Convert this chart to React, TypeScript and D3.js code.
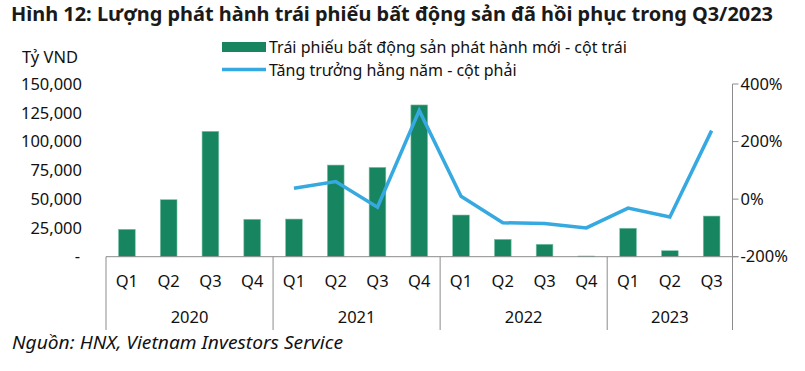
import * as d3 from "d3";
import { useEffect, useRef } from "react";

const years = ["2020", "2021", "2022", "2023"];
const quarters = ["Q1", "Q2", "Q3", "Q4", "Q1", "Q2", "Q3", "Q4", "Q1", "Q2", "Q3", "Q4", "Q1", "Q2", "Q3"];
const yearOf = ["2020", "2020", "2020", "2020", "2021", "2021", "2021", "2021", "2022", "2022", "2022", "2022", "2023", "2023", "2023"];

// Tỷ VND
const issued = [23800, 49500, 108900, 32500, 32700, 79600, 77600, 131800, 36200, 15100, 10800, 600, 24700, 5200, 35300];
// % YoY, null where not available
const growth: (number | null)[] = [null, null, null, null, 38, 61, -28, 308, 10, -82, -85, -100, -31, -62, 238];

const leftTicks = [0, 25000, 50000, 75000, 100000, 125000, 150000];
const rightTicks = [-200, 0, 200, 400];

const title = "Hình 12: Lượng phát hành trái phiếu bất động sản đã hồi phục trong Q3/2023";
const legendBar = "Trái phiếu bất động sản phát hành mới - cột trái";
const legendLine = "Tăng trưởng hằng năm - cột phải";
const source = "Nguồn: HNX, Vietnam Investors Service";

const W = 805;
const H = 371;
const FONT = "'Noto Sans', sans-serif";

export default function App() {
  const ref = useRef<SVGSVGElement | null>(null);

  useEffect(() => {
    document.body.style.margin = "0";
    const el = ref.current;
    if (!el) return;
    const svg = d3.select(el);
    svg.selectAll("*").remove();

    const plot = { left: 106, right: 732.5, top: 84, bottom: 256.7, floor: 330 };
    const green = "#17855f";
    const blue = "#36a9e1";
    const axisColor = "#8c8c8c";
    const textColor = "#111";

    const keys = quarters.map((q, i) => `${yearOf[i]}-${q}`);
    const x = d3.scaleBand<string>().domain(keys).range([plot.left, plot.right]).paddingInner(0.6).paddingOuter(0.3);
    const step = x.step();
    const yL = d3.scaleLinear().domain([0, 150000]).range([plot.bottom, plot.top]);
    const yR = d3.scaleLinear().domain([-200, 400]).range([plot.bottom, plot.top]);

    svg.append("rect").attr("width", W).attr("height", H).attr("fill", "#fff");

    svg
      .append("text")
      .attr("x", 11)
      .attr("y", 21)
      .attr("font-family", FONT)
      .attr("font-weight", 700)
      .attr("font-size", 20)
      .attr("fill", "#1a1a1a")
      .attr("textLength", 762)
      .attr("lengthAdjust", "spacingAndGlyphs")
      .text(title);

    // legend
    svg.append("rect").attr("x", 222).attr("y", 42).attr("width", 44).attr("height", 10).attr("fill", green);
    svg.append("line").attr("x1", 222).attr("x2", 266).attr("y1", 69.5).attr("y2", 69.5).attr("stroke", blue).attr("stroke-width", 3.5);
    const lg = svg.append("g").attr("font-family", FONT).attr("font-size", 16).attr("fill", textColor);
    lg.append("text").attr("x", 269).attr("y", 53).text(legendBar);
    lg.append("text").attr("x", 269).attr("y", 76).text(legendLine);

    svg
      .append("text")
      .attr("x", 50)
      .attr("y", 63)
      .attr("text-anchor", "middle")
      .attr("font-family", FONT)
      .attr("font-size", 16.5)
      .attr("fill", textColor)
      .text("Tỷ VND");

    // left ticks (no axis line)
    svg
      .append("g")
      .attr("font-family", FONT)
      .attr("font-size", 16.5)
      .attr("fill", textColor)
      .attr("text-anchor", "end")
      .selectAll("text")
      .data(leftTicks)
      .enter()
      .append("text")
      .attr("x", (d) => (d === 0 ? 80 : 82))
      .attr("y", (d) => yL(d))
      .attr("dy", "0.35em")
      .text((d) => (d === 0 ? "-" : d3.format(",")(d)));

    // bars
    svg
      .append("g")
      .selectAll("rect")
      .data(issued)
      .enter()
      .append("rect")
      .attr("x", (_, i) => x(keys[i]) ?? 0)
      .attr("width", x.bandwidth())
      .attr("y", (d) => yL(d))
      .attr("height", (d) => yL(0) - yL(d))
      .attr("fill", green)
      .attr("stroke", "#7cc4a9")
      .attr("stroke-width", 0.6);

    // line
    const pts = growth
      .map((v, i) => ({ v, i }))
      .filter((p) => p.v !== null) as { v: number; i: number }[];
    const line = d3
      .line<{ v: number; i: number }>()
      .x((p) => (x(keys[p.i]) ?? 0) + x.bandwidth() / 2)
      .y((p) => yR(p.v));
    svg
      .append("path")
      .datum(pts)
      .attr("d", line)
      .attr("fill", "none")
      .attr("stroke", blue)
      .attr("stroke-width", 3.5)
      .attr("stroke-linejoin", "miter");

    // x axis baseline and separators
    const ax = svg.append("g").attr("stroke", axisColor).attr("stroke-width", 1);
    ax.append("line").attr("x1", plot.left).attr("x2", plot.right + 6).attr("y1", plot.bottom).attr("y2", plot.bottom);
    const seps = [0, 4, 8, 12, 15];
    ax.selectAll("line.sep")
      .data(seps)
      .enter()
      .append("line")
      .attr("class", "sep")
      .attr("x1", (d) => plot.left + d * step)
      .attr("x2", (d) => plot.left + d * step)
      .attr("y1", plot.bottom)
      .attr("y2", plot.floor);

    // right axis
    ax.append("line").attr("x1", plot.right).attr("x2", plot.right).attr("y1", plot.top).attr("y2", plot.bottom);
    ax.selectAll("line.rt")
      .data(rightTicks)
      .enter()
      .append("line")
      .attr("class", "rt")
      .attr("x1", plot.right)
      .attr("x2", plot.right + 6)
      .attr("y1", (d) => yR(d))
      .attr("y2", (d) => yR(d));

    svg
      .append("g")
      .attr("font-family", FONT)
      .attr("font-size", 16.5)
      .attr("fill", textColor)
      .selectAll("text")
      .data(rightTicks)
      .enter()
      .append("text")
      .attr("x", plot.right + 8)
      .attr("y", (d) => yR(d))
      .attr("dy", "0.35em")
      .text((d) => `${d}%`);

    // category labels
    const cl = svg.append("g").attr("font-family", FONT).attr("font-size", 16.5).attr("fill", textColor).attr("text-anchor", "middle");
    cl.selectAll("text.q")
      .data(quarters)
      .enter()
      .append("text")
      .attr("class", "q")
      .attr("x", (_, i) => (x(keys[i]) ?? 0) + x.bandwidth() / 2)
      .attr("y", 286.5)
      .text((d) => d);
    cl.selectAll("text.y")
      .data(years)
      .enter()
      .append("text")
      .attr("class", "y")
      .attr("x", (_, i) => plot.left + (seps[i] + seps[i + 1]) / 2 * step)
      .attr("y", 323)
      .text((d) => d);

    svg
      .append("text")
      .attr("x", 12)
      .attr("y", 348.5)
      .attr("font-family", FONT)
      .attr("font-style", "italic")
      .attr("font-size", 17.5)
      .attr("fill", textColor)
      .attr("textLength", 331)
      .attr("lengthAdjust", "spacingAndGlyphs")
      .text(source);
  }, []);

  return <svg ref={ref} width={W} height={H} style={{ display: "block" }} />;
}
